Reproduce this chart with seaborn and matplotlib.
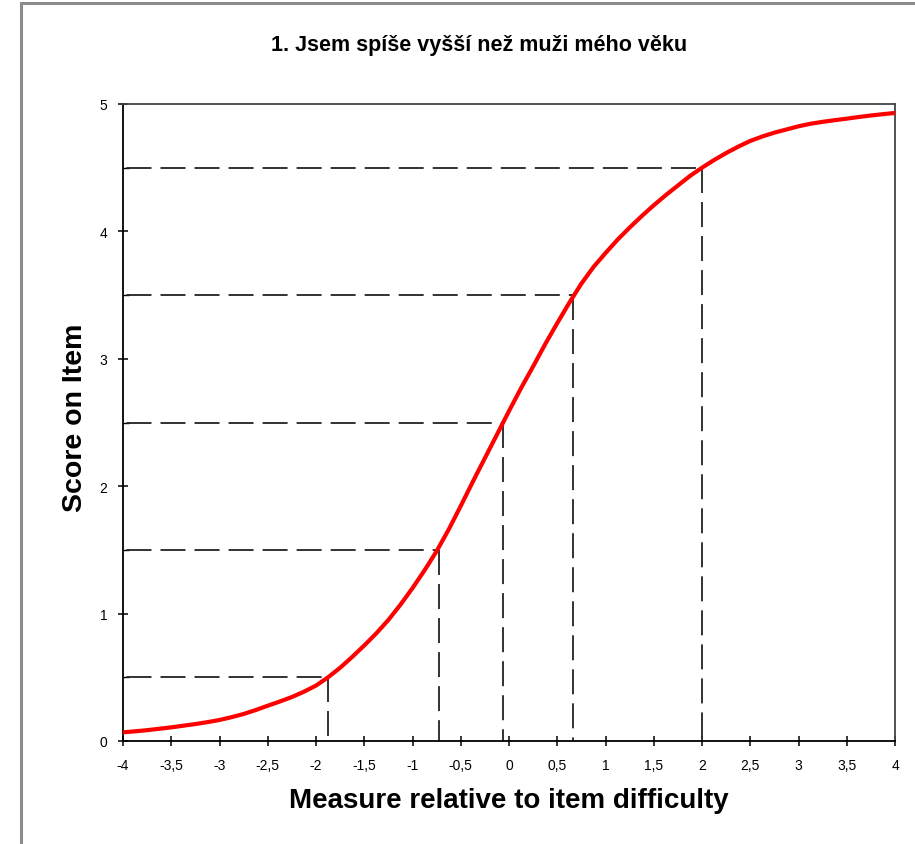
import matplotlib
matplotlib.use("Agg")
import matplotlib.pyplot as plt
import numpy as np
import pandas as pd
import seaborn as sns
from matplotlib.patches import Rectangle
from matplotlib.ticker import FixedLocator, FuncFormatter

# Expected score curve for the item (measure in logits vs. expected score)
measure = [-4.0, -3.875, -3.75, -3.625, -3.5, -3.375, -3.25, -3.125,
           -3.0, -2.875, -2.75, -2.625, -2.5, -2.375, -2.25, -2.125,
           -2.0, -1.875, -1.75, -1.625, -1.5, -1.375, -1.25, -1.125,
           -1.0, -0.875, -0.75, -0.625, -0.5, -0.375, -0.25, -0.125,
           0.0, 0.125, 0.25, 0.375, 0.5, 0.625, 0.75, 0.875,
           1.0, 1.125, 1.25, 1.375, 1.5, 1.625, 1.75, 1.875,
           2.0, 2.125, 2.25, 2.375, 2.5, 2.625, 2.75, 2.875,
           3.0, 3.125, 3.25, 3.375, 3.5, 3.625, 3.75, 3.875, 4.0]
score = [0.068, 0.076, 0.085, 0.096, 0.107, 0.120, 0.133, 0.148,
         0.165, 0.187, 0.212, 0.243, 0.277, 0.310, 0.345, 0.387,
         0.435, 0.500, 0.575, 0.660, 0.750, 0.845, 0.950, 1.070,
         1.200, 1.340, 1.490, 1.660, 1.845, 2.035, 2.220, 2.405,
         2.590, 2.770, 2.940, 3.115, 3.280, 3.440, 3.590, 3.720,
         3.830, 3.935, 4.030, 4.120, 4.205, 4.285, 4.360, 4.435,
         4.500, 4.560, 4.615, 4.665, 4.710, 4.745, 4.775, 4.800,
         4.825, 4.845, 4.860, 4.873, 4.885, 4.898, 4.910, 4.920, 4.930]

# Half-point score levels and the measures where the curve reaches them
half_score = [0.5, 1.5, 2.5, 3.5, 4.5]
half_measure = [-1.876, -0.725, -0.062, 0.663, 2.0]

x_ticks = [-4, -3.5, -3, -2.5, -2, -1.5, -1, -0.5, 0, 0.5, 1, 1.5, 2, 2.5, 3, 3.5, 4]
y_ticks = [0, 1, 2, 3, 4, 5]
y_minor_ticks = [0.5, 1.5, 2.5, 3.5, 4.5]

title = "1. Jsem spíše vyšší než muži mého věku"
x_label = "Measure relative to item difficulty"
y_label = "Score on Item"

sns.set_style("white")
plt.rcParams["font.family"] = ["Liberation Sans", "DejaVu Sans"]
plt.rcParams["axes.unicode_minus"] = False
plt.rcParams["lines.scale_dashes"] = False

W, H = 915, 845
fig = plt.figure(figsize=(W / 100, H / 100), dpi=100)
fig.patch.set_facecolor("white")

left, right, top, bottom = 123, 895, 105, 742
ax = fig.add_axes([left / W, 1 - bottom / H, (right - left) / W, (bottom - top) / H])
ax.set_facecolor("white")

# Outer chart frame
fig.add_artist(Rectangle((21 / W, -0.05), 1.2, 1 - 4 / H + 0.05,
                         transform=fig.transFigure, fill=False,
                         edgecolor="#8c8c8c", linewidth=2.2, zorder=0))

# Dashed guides from each half-point level to the curve and down to the axis
for xm, ys in zip(half_measure, half_score):
    ax.plot([-4, xm], [ys, ys], color="#222222", lw=1.3, linestyle=(-2.5, (18, 6.5)),
            zorder=2, dash_capstyle="butt")
    ax.plot([xm, xm], [ys, 0], color="#222222", lw=1.3, linestyle=(0, (18, 6.5)),
            zorder=2, dash_capstyle="butt")

df = pd.DataFrame({"measure": measure, "score": score})
sns.lineplot(data=df, x="measure", y="score", color="#ff0000", lw=3.0,
             ax=ax, zorder=3, sort=True)

ax.set_xlim(-4, 4)
ax.set_ylim(0, 5)

ax.xaxis.set_major_locator(FixedLocator(x_ticks))
ax.yaxis.set_major_locator(FixedLocator(y_ticks))
ax.yaxis.set_minor_locator(FixedLocator(y_minor_ticks))


def comma_fmt(v, pos):
    if abs(v - round(v)) < 1e-9:
        return "%d" % round(v)
    return ("%g" % v).replace(".", ",")


ax.xaxis.set_major_formatter(FuncFormatter(comma_fmt))
ax.yaxis.set_major_formatter(FuncFormatter(comma_fmt))

ax.tick_params(axis="x", which="major", bottom=True, direction="inout", length=7.2,
               width=1.1, color="black", labelsize=10, pad=9, labelcolor="black")
ax.tick_params(axis="y", which="major", left=True, direction="inout", length=7.6,
               width=1.1, color="black", labelsize=10, pad=7.5, labelcolor="black")
ax.tick_params(axis="y", which="minor", left=True, direction="in", length=4,
               width=1.0, color="black")

for side in ["left", "bottom"]:
    ax.spines[side].set_color("black")
    ax.spines[side].set_linewidth(1.3)
for side in ["top", "right"]:
    ax.spines[side].set_color("#444444")
    ax.spines[side].set_linewidth(1.3)
    ax.spines[side].set_visible(True)

ax.set_xlabel(x_label, fontsize=20, fontweight="bold", color="black")
ax.set_ylabel(y_label, fontsize=20.5, fontweight="bold", color="black")
ax.xaxis.label.set_va("center")
ax.yaxis.label.set_va("center")
ax.xaxis.set_label_coords(0.5, (bottom - 801) / (bottom - top))
ax.yaxis.set_label_coords((75 - left) / (right - left), (bottom - 418) / (bottom - top))

fig.text(479 / W, 1 - 46 / H, title, ha="center", va="center",
         fontsize=15.5, fontweight="bold", color="black")

fig.savefig("out.png", dpi=100, facecolor="white")
